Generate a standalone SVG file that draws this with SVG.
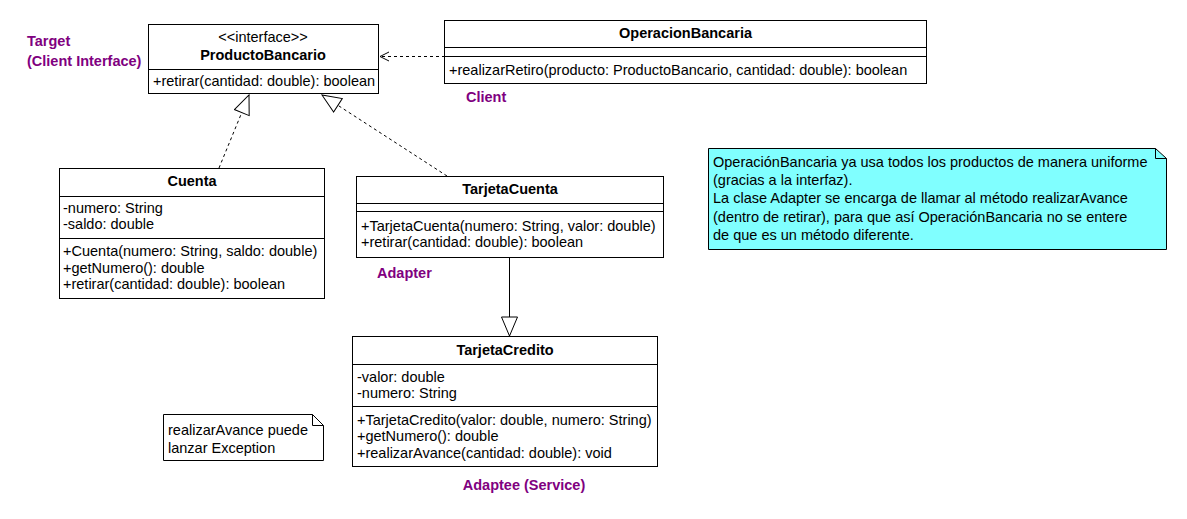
<svg xmlns="http://www.w3.org/2000/svg" width="1187" height="519" viewBox="0 0 1187 519">
<style>
text{font-family:"Liberation Sans",Arial,sans-serif;font-size:14.5px;fill:#000}
.b{font-weight:bold}
.c{text-anchor:middle}
.lbl{font-weight:bold;fill:#800080}
.box{fill:#fff;stroke:#000;stroke-width:1}
.ln{stroke:#000;stroke-width:1;fill:none}
.dash{stroke:#000;stroke-width:1;fill:none;stroke-dasharray:3,3}
.note{fill:#fff;stroke:#000;stroke-width:1}
</style>
<defs>
<marker id="tri" markerWidth="22" markerHeight="18" refX="20" refY="8.5" orient="auto" markerUnits="userSpaceOnUse">
<path d="M1,0.5 L20,8.5 L1,16.5 Z" fill="#fff" stroke="#000" stroke-width="1"/>
</marker>
<marker id="open" markerWidth="12" markerHeight="12" refX="10" refY="6" orient="auto" markerUnits="userSpaceOnUse">
<path d="M1,1.5 L10,6 L1,10.5" fill="none" stroke="#000" stroke-width="1"/>
</marker>
</defs>
<rect width="1187" height="519" fill="#fff"/>

<g id="connectors">
<line class="dash" x1="445" y1="56.5" x2="380" y2="56.5" marker-end="url(#open)"/>
<line class="dash" x1="219" y1="168" x2="249" y2="95" marker-end="url(#tri)"/>
<line class="dash" x1="447" y1="176" x2="322" y2="95" marker-end="url(#tri)"/>
<line class="ln" x1="509.5" y1="257" x2="509.5" y2="336" marker-end="url(#tri)"/>
</g>

<g id="ProductoBancario">
<rect class="box" x="148.5" y="24.5" width="230" height="69"/>
<line class="ln" x1="148.5" y1="69.5" x2="378.5" y2="69.5"/>
<text class="c" x="263" y="42">&lt;&lt;interface&gt;&gt;</text>
<text class="b c" x="263" y="60">ProductoBancario</text>
<text x="153" y="86">+retirar(cantidad: double): boolean</text>
</g>
<g id="label-target">
<text class="lbl" x="27" y="46">Target</text>
<text class="lbl" x="27" y="66">(Client Interface)</text>
</g>

<g id="OperacionBancaria">
<rect class="box" x="444.5" y="20.5" width="482" height="63"/>
<line class="ln" x1="444.5" y1="47.5" x2="926.5" y2="47.5"/>
<line class="ln" x1="444.5" y1="56.5" x2="926.5" y2="56.5"/>
<text class="b c" x="685.5" y="38">OperacionBancaria</text>
<text x="449" y="75">+realizarRetiro(producto: ProductoBancario, cantidad: double): boolean</text>
</g>
<g id="label-client">
<text class="lbl" x="466" y="102">Client</text>
</g>

<g id="Cuenta">
<rect class="box" x="59.5" y="168.5" width="265" height="130"/>
<line class="ln" x1="59.5" y1="196.5" x2="324.5" y2="196.5"/>
<line class="ln" x1="59.5" y1="238.5" x2="324.5" y2="238.5"/>
<text class="b c" x="192" y="186">Cuenta</text>
<text x="63" y="213">-numero: String</text>
<text x="63" y="229">-saldo: double</text>
<text x="63" y="256">+Cuenta(numero: String, saldo: double)</text>
<text x="63" y="273">+getNumero(): double</text>
<text x="63" y="289">+retirar(cantidad: double): boolean</text>
</g>

<g id="TarjetaCuenta">
<rect class="box" x="356.5" y="176.5" width="307" height="81"/>
<line class="ln" x1="356.5" y1="203.5" x2="663.5" y2="203.5"/>
<line class="ln" x1="356.5" y1="211.5" x2="663.5" y2="211.5"/>
<text class="b c" x="510" y="194">TarjetaCuenta</text>
<text x="361" y="231">+TarjetaCuenta(numero: String, valor: double)</text>
<text x="361" y="247">+retirar(cantidad: double): boolean</text>
</g>
<g id="label-adapter">
<text class="lbl" x="377" y="278">Adapter</text>
</g>

<g id="TarjetaCredito">
<rect class="box" x="352.5" y="336.5" width="305" height="130"/>
<line class="ln" x1="352.5" y1="364.5" x2="657.5" y2="364.5"/>
<line class="ln" x1="352.5" y1="406.5" x2="657.5" y2="406.5"/>
<text class="b c" x="505" y="355">TarjetaCredito</text>
<text x="357" y="382">-valor: double</text>
<text x="357" y="398">-numero: String</text>
<text x="357" y="425">+TarjetaCredito(valor: double, numero: String)</text>
<text x="357" y="441">+getNumero(): double</text>
<text x="357" y="458">+realizarAvance(cantidad: double): void</text>
</g>
<g id="label-adaptee">
<text class="lbl c" x="524" y="490">Adaptee (Service)</text>
</g>

<g id="note-adapter">
<path d="M708.5,148.5 H1155.5 L1166.5,158.5 V249.5 H708.5 Z" fill="#80ffff" stroke="#000" stroke-width="1"/>
<path d="M1155.5,148.5 V158.5 H1166.5" class="ln"/>
<text x="713" y="167">OperaciónBancaria ya usa todos los productos de manera uniforme</text>
<text x="713" y="185">(gracias a la interfaz).</text>
<text x="713" y="203">La clase Adapter se encarga de llamar al método realizarAvance</text>
<text x="713" y="222">(dentro de retirar), para que así OperaciónBancaria no se entere</text>
<text x="713" y="240">de que es un método diferente.</text>
</g>

<g id="note-exception">
<path d="M163.5,414.5 H312.5 L323.5,425.5 V460.5 H163.5 Z" class="note"/>
<path d="M312.5,414.5 V425.5 H323.5" class="ln"/>
<text x="168" y="435">realizarAvance puede</text>
<text x="168" y="453">lanzar Exception</text>
</g>
</svg>
